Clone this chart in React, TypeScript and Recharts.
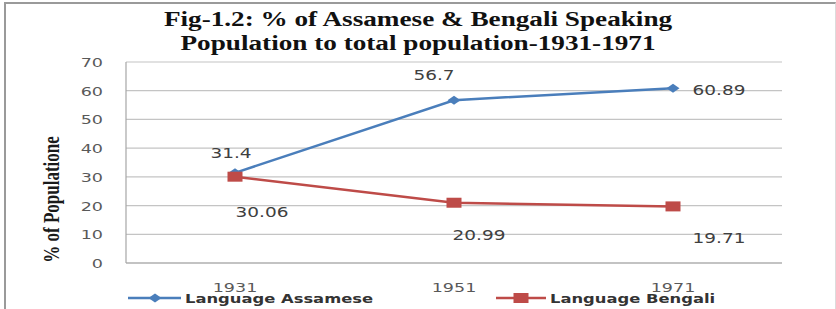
import React from "react";
import { LineChart, Line, XAxis, YAxis, CartesianGrid, LabelList } from "recharts";

const years = ["1931", "1951", "1971"];
const assamese = [31.4, 56.7, 60.89];
const bengali = [30.06, 20.99, 19.71];
const yTicks = [0, 10, 20, 30, 40, 50, 60, 70];
const titleLines = [
  "Fig-1.2: % of Assamese & Bengali Speaking",
  "Population to total population-1931-1971",
];
const yLabel = "% of Populatione";
const seriesNames = ["Language Assamese", "Language Bengali"];

// label offsets relative to each point (styling)
const assameseLabelOffsets = [
  [-4, -20],
  [-20, -25],
  [46, 2],
];
const bengaliLabelOffsets = [
  [27, 35],
  [25, 32],
  [46, 32],
];

const data = years.map((y, i) => ({ year: y, a: assamese[i], b: bengali[i] }));

const BLUE = "#4a7ebb";
const RED = "#be4b48";
const SX = 1.35;

const Stretch = ({ x, y, anchor = "middle", size = 13, fill = "#595959", weight = "normal", family = "DejaVu Sans", children, sx = SX }: any) => (
  <g transform={`translate(${x},${y}) scale(${sx},1)`}>
    <text x={0} y={0} textAnchor={anchor} fontSize={size} fill={fill} fontWeight={weight} fontFamily={family}>
      {children}
    </text>
  </g>
);

const XTick = (props: any) => (
  <Stretch x={props.x} y={props.y + 27} anchor="middle" size={13}>
    {props.payload.value}
  </Stretch>
);
const YTick = (props: any) => (
  <Stretch x={props.x - 21} y={props.y + 5} anchor="end" size={13}>
    {props.payload.value}
  </Stretch>
);

const makeLabel = (values: number[], offsets: number[][]) => (props: any) => {
  const { x, y, index } = props;
  const [dx, dy] = offsets[index];
  return (
    <Stretch x={x + dx} y={y + dy + 5} anchor="middle" size={14} fill="#404040" sx={1.32}>
      {values[index]}
    </Stretch>
  );
};

const Diamond = (props: any) => {
  const { cx, cy } = props;
  if (cx == null || cy == null) return null;
  return <polygon points={`${cx - 6.5},${cy} ${cx},${cy - 4.5} ${cx + 6.5},${cy} ${cx},${cy + 4.5}`} fill={BLUE} />;
};
const Square = (props: any) => {
  const { cx, cy } = props;
  if (cx == null || cy == null) return null;
  return <rect x={cx - 7.5} y={cy - 5} width={15} height={10} fill={RED} />;
};

const YLabelContent = (props: any) => {
  const vb = props.viewBox;
  const cx = vb.x + 51;
  const cy = vb.y + vb.height / 2 + 37;
  return (
    <g transform={`translate(${cx},${cy}) scale(1.35,1) rotate(-90)`}>
      <text x={0} y={6} textAnchor="middle" fontSize={17} fontWeight="bold" fontFamily="Liberation Serif" fill="#1a1a1a">
        {yLabel}
      </text>
    </g>
  );
};

export default function App() {
  return (
    <div style={{ position: "absolute", left: 0, top: 0, width: 836, height: 309, background: "#fff", overflow: "hidden" }}>
      <div style={{ position: "absolute", left: 4, top: 2, width: 829, height: 320, borderLeft: "2px solid #9a9a9a", borderTop: "2px solid #9a9a9a", borderRight: "1px solid #dcdcdc" }} />
      <LineChart width={836} height={309} data={data} margin={{ top: 62, right: 54, bottom: 0, left: 0 }}>
        <CartesianGrid vertical={false} stroke="#c4c4c4" strokeWidth={1.2} />
        <XAxis dataKey="year" height={46} padding={{ left: 109, right: 109 }} tickLine={false} tickSize={0} axisLine={{ stroke: "#a6a6a6", strokeWidth: 1.2 }} tick={<XTick />} interval={0} />
        <YAxis width={126} domain={[0, 70]} ticks={yTicks} tickLine={false} tickSize={0} axisLine={{ stroke: "#a6a6a6", strokeWidth: 1.2 }} tick={<YTick />} label={{ content: <YLabelContent /> } as any} />
        <Line dataKey="a" name={seriesNames[0]} stroke={BLUE} strokeWidth={2.5} dot={<Diamond />} activeDot={false} isAnimationActive={false}>
          <LabelList dataKey="a" content={makeLabel(assamese, assameseLabelOffsets)} />
        </Line>
        <Line dataKey="b" name={seriesNames[1]} stroke={RED} strokeWidth={2.5} dot={<Square />} activeDot={false} isAnimationActive={false}>
          <LabelList dataKey="b" content={makeLabel(bengali, bengaliLabelOffsets)} />
        </Line>
      </LineChart>
      <svg width={836} height={309} style={{ position: "absolute", left: 0, top: 0, pointerEvents: "none" }}>
        {titleLines.map((t, i) => (
          <g key={i} transform={`translate(418,${26 + i * 24}) scale(1.36,1)`}>
            <text x={0} y={0} textAnchor="middle" fontSize={20} fontWeight="bold" fontFamily="Liberation Serif" fill="#111">
              {t}
            </text>
          </g>
        ))}
        <line x1={128} y1={298} x2={181} y2={298} stroke={BLUE} strokeWidth={2.5} />
        <polygon points="148.5,298 155,293.5 161.5,298 155,302.5" fill={BLUE} />
        <Stretch x={185} y={303} anchor="start" size={13} weight="bold" fill="#333" sx={1.26}>
          {seriesNames[0]}
        </Stretch>
        <line x1={496} y1={298} x2={546} y2={298} stroke={RED} strokeWidth={2.5} />
        <rect x={513.5} y={293} width={15} height={10} fill={RED} />
        <Stretch x={550} y={303} anchor="start" size={13} weight="bold" fill="#333" sx={1.26}>
          {seriesNames[1]}
        </Stretch>
      </svg>
    </div>
  );
}
